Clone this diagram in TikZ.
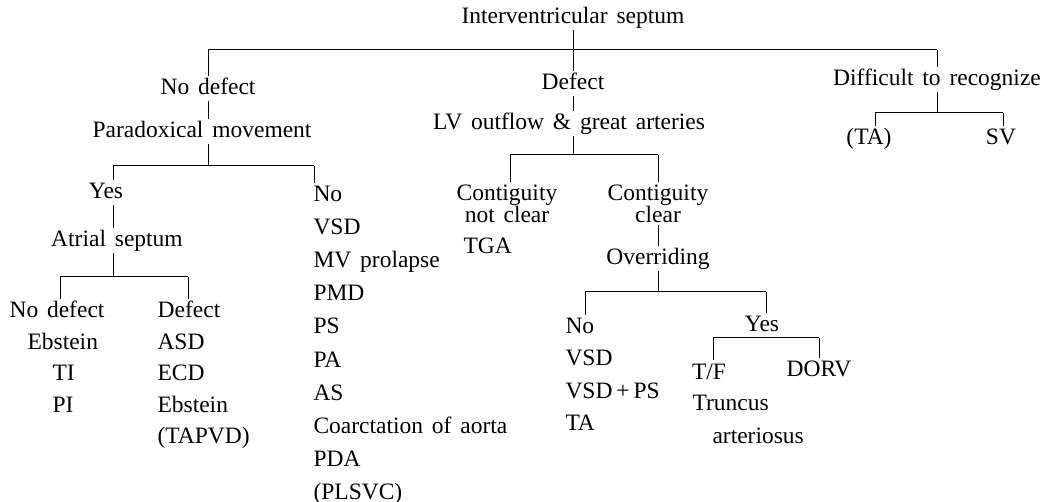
\documentclass[tikz,border=0pt]{standalone}
\usepackage{fontspec}
\setmainfont{Liberation Serif}[WordSpace=1.5]
\usepackage{tikz}
\begin{document}
\begin{tikzpicture}[x=1pt, y=-1pt, line width=1pt,
    every node/.style={font=\fontsize{23.5}{22}\selectfont, inner sep=2pt},
    lbl/.style={text height=16pt, text depth=4pt},
    lst/.style={lbl, anchor=west},
    two/.style={align=center, anchor=north}]
\useasboundingbox (0,0) rectangle (1049,502);
\node[lbl] (ivs) at (573,18) {Interventricular septum};
\node[lbl] (nodef) at (208,89) {No defect};
\node[lbl] (para) at (202,132) {Paradoxical movement};
\node[lbl] (def) at (573,84) {Defect};
\node[lbl] (lvo) at (569,124) {LV outflow \& great arteries};
\node[lbl] (diff) at (937,80) {Difficult to recognize};
\node[lbl] (ta) at (869,139) {(TA)};
\node[lbl] (sv) at (1001,139) {SV};
\node[lbl] (yes) at (106,193) {Yes};
\node[lbl] (atr) at (117,241) {Atrial septum};
\node[lbl] (andef) at (57,312) {No defect};
\node[lbl] (adef) at (189,312) {Defect};
\node[lst] (and1) at (25,344) {Ebstein};
\node[lst] (and2) at (50,375) {TI};
\node[lst] (and3) at (50,406) {PI};
\foreach \t [count=\i] in {ASD,ECD,Ebstein,{(TAPVD)}}
  \node[lst] (adf\i) at (155,{313+31*\i}) {\t};
\foreach \t [count=\i from 0] in {No,VSD,MV prolapse,PMD,PS,PA,AS,Coarctation of aorta,PDA,{(PLSVC)}}
  \node[lst] (nol\i) at (311,{196+33*\i}) {\t};
\node[two] (cnc) at (507,182) {Contiguity\\not clear};
\node[lst] (tga) at (461,248) {TGA};
\node[two] (cc) at (658,182) {Contiguity\\clear};
\node[lbl] (ov) at (658,259) {Overriding};
\foreach \t [count=\i from 0] in {No,VSD,{VSD\,+\,PS},TA}
  \node[lst] (ovn\i) at (563,{328+32*\i}) {\t};
\node[lbl] (yes2) at (762,326) {Yes};
\node[lbl] (tf) at (709,373) {T/F};
\node[lbl] (dorv) at (819,371) {DORV};
\node[lst] (trc) at (690,404) {Truncus};
\node[lst] (art) at (710,437) {arteriosus};

\coordinate (f1) at (573,50);
\draw (ivs) -- (f1);
\draw (nodef |- f1) -- (diff |- f1);
\draw (nodef |- f1) -- (nodef);
\draw (f1) -- (def);
\draw (diff |- f1) -- (diff);
\coordinate (f2l) at (875,113);
\coordinate (f2r) at (1003,113);
\draw (diff) -- (diff |- f2l);
\draw (f2l) -- (f2r);
\draw (f2l) -- (f2l |- ta.north);
\draw (f2r) -- (f2r |- sv.north);
\coordinate (f3) at (208,166);
\coordinate (f3l) at (113,166);
\coordinate (f3r) at (314,166);
\draw (nodef) -- (nodef |- para.north);
\draw (f3 |- para.south) -- (f3);
\draw (f3l) -- (f3r);
\draw (f3l) -- (f3l |- yes.north);
\draw (f3r) -- (f3r |- nol0.north);
\draw (f3l |- yes.south) -- (f3l |- atr.north);
\coordinate (f4l) at (60,277);
\coordinate (f4r) at (188,277);
\draw (f3l |- atr.south) -- (f3l |- f4l);
\draw (f4l) -- (f4r);
\draw (f4l) -- (f4l |- andef.north);
\draw (f4r) -- (f4r |- adef.north);
\coordinate (f5) at (573,155);
\coordinate (f5l) at (510,155);
\coordinate (f5r) at (658,155);
\draw (def) -- (def |- lvo.north);
\draw (f5 |- lvo.south) -- (f5);
\draw (f5l) -- (f5r);
\draw (f5l) -- (f5l |- cnc.north);
\draw (f5r) -- (cc);
\draw (cc) -- (ov);
\coordinate (f6l) at (585,292);
\coordinate (f6r) at (766,292);
\draw (ov) -- (ov |- f6l);
\draw (f6l) -- (f6r);
\draw (f6l) -- (f6l |- ovn0.north);
\draw (f6r) -- (f6r |- yes2.north);
\coordinate (f7l) at (713,338);
\coordinate (f7r) at (819,338);
\draw (f7l) -- (f7r);
\draw (f7l) -- (f7l |- tf.north);
\draw (f7r) -- (dorv);
\end{tikzpicture}
\end{document}
